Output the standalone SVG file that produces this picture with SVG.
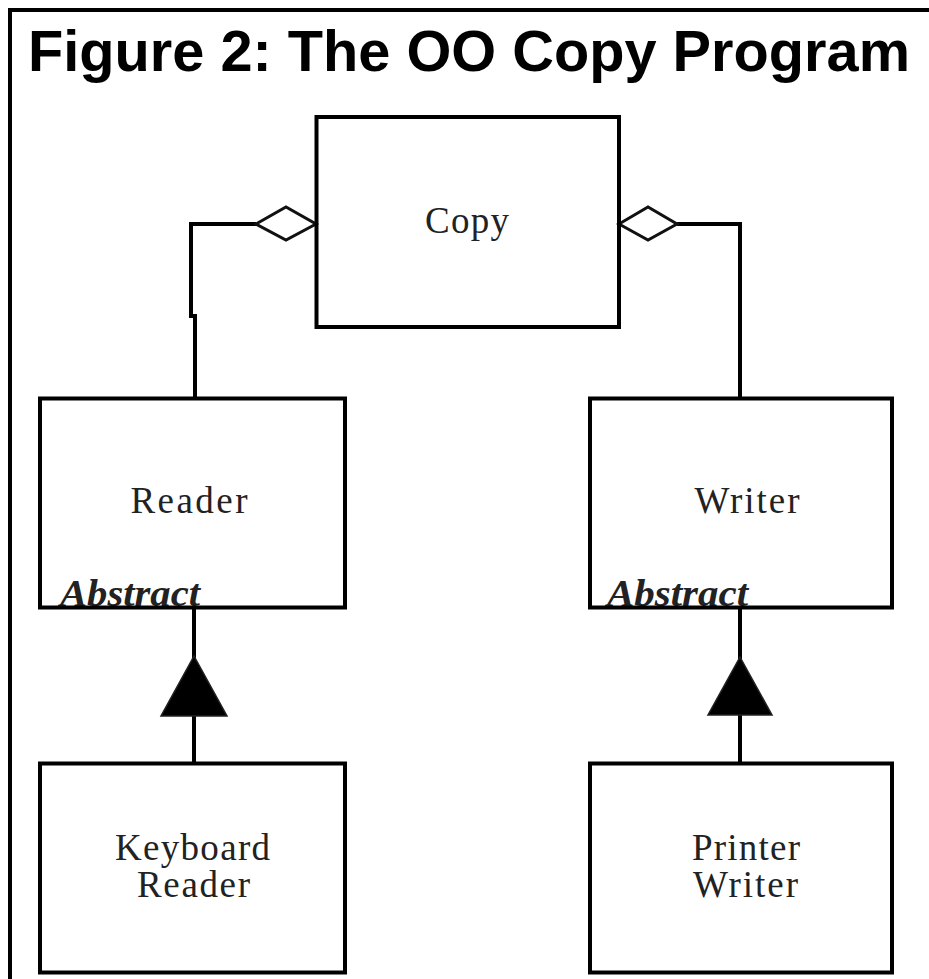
<svg xmlns="http://www.w3.org/2000/svg" width="929" height="979" viewBox="0 0 929 979">
  <style>
    .frame { fill: none; stroke: #000; stroke-width: 4; }
    .box { fill: none; stroke: #000; stroke-width: 4; }
    .wire { fill: none; stroke: #000; stroke-width: 4; stroke-linejoin: miter; }
    .agg { fill: #fff; stroke: #111; stroke-width: 3; }
    .gen { fill: #000; stroke: #222; stroke-width: 1.5; }
    .title { font-family: "Liberation Sans", Arial, sans-serif; font-weight: bold; font-size: 58px; fill: #000; }
    .label { font-family: "Liberation Serif", "Times New Roman", serif; font-size: 37px; fill: #222; text-anchor: middle; }
    .stereo { font-family: "Liberation Serif", "Times New Roman", serif; font-size: 38px; font-weight: bold; font-style: italic; fill: #222; }
  </style>

  <rect width="929" height="979" fill="#fff"/>

  <!-- outer figure frame (open to the right and bottom) -->
  <path class="frame" d="M10,979 V10 H929"/>
  <text class="title" x="28" y="71" textLength="882" lengthAdjust="spacingAndGlyphs">Figure 2: The OO Copy Program</text>

  <g id="connectors">
    <!-- aggregation: Copy owns a Reader -->
    <path class="wire" d="M256,224 H191 V316 H195 V398"/>
    <polygon class="agg" points="256,224 286,207 316,224 286,240"/>
    <!-- aggregation: Copy owns a Writer -->
    <path class="wire" d="M677,224 H740 V398"/>
    <polygon class="agg" points="619,224 648,207 677,224 648,240"/>
    <!-- generalization: KeyboardReader is a Reader -->
    <path class="wire" d="M194,763 V608"/>
    <polygon class="gen" points="194,656 227,716 161,716"/>
    <!-- generalization: PrinterWriter is a Writer -->
    <path class="wire" d="M740,763 V608"/>
    <polygon class="gen" points="740,657 772,715 708,715"/>
  </g>

  <g id="copy">
    <rect class="box" x="316.5" y="117" width="302.5" height="210"/>
    <text class="label" x="467" y="233" textLength="84">Copy</text>
  </g>

  <g id="reader">
    <text class="label" x="189" y="513" textLength="117">Reader</text>
    <text class="stereo" x="60" y="606" textLength="140" lengthAdjust="spacingAndGlyphs">Abstract</text>
    <rect class="box" x="40" y="398.5" width="305" height="209"/>
  </g>

  <g id="writer">
    <text class="label" x="747" y="513" textLength="105">Writer</text>
    <text class="stereo" x="607" y="606" textLength="141" lengthAdjust="spacingAndGlyphs">Abstract</text>
    <rect class="box" x="590" y="398.5" width="302" height="209"/>
  </g>

  <g id="keyboard-reader">
    <rect class="box" x="40" y="763.5" width="305" height="209"/>
    <text class="label" x="192.5" y="860" textLength="155">Keyboard</text>
    <text class="label" x="193.5" y="897" textLength="113">Reader</text>
  </g>

  <g id="printer-writer">
    <rect class="box" x="590" y="763.5" width="302" height="209"/>
    <text class="label" x="746" y="860" textLength="108">Printer</text>
    <text class="label" x="745.5" y="897" textLength="105">Writer</text>
  </g>
</svg>
